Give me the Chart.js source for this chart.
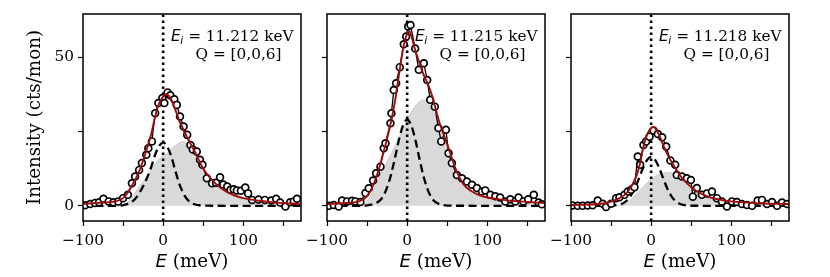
<!DOCTYPE html>
<html><head><meta charset="utf-8">
<script src="https://cdn.jsdelivr.net/npm/chart.js@4.4.1/dist/chart.umd.min.js"></script>
<style>
html,body{margin:0;padding:0;background:#fff;}
#wrap{position:relative;width:830px;height:277px;background:#fff;}
#wrap canvas{position:absolute;left:0;top:0;}
</style></head><body>
<div id="wrap">
<canvas id="c1" width="830" height="277"></canvas>
<canvas id="c2" width="830" height="277"></canvas>
<canvas id="c3" width="830" height="277"></canvas>
</div>
<script>
// ---------- axis ticks / labels ----------
const X_TICKS = [-100, -50, 0, 50, 100, 150];
const X_LABELS = ['\u2212100', '', '0', '', '100', ''];
const Y_TICKS = [0, 25, 50];
const Y_LABELS = ['0', '', '50'];
const X_MIN = -100, X_MAX = 172, Y_MIN = -5.1, Y_MAX = 64.6;
const EI_LABELS = ['11.212', '11.215', '11.218'];
const Q_LABEL = 'Q = [0,0,6]';
const Y_TITLE = 'Intensity (cts/mon)';

// ---------- measured points ----------
const e1 = [-97.5,-91,-85,-80,-74.5,-68,-62,-56,-50,-44,-39,-35,-30,-26.5,-21,-18.5,-14,-10,-6,-1,1.5,5.5,9,14,17,21,25.5,30,34,37,42,46,49,54.5,61,66,71,75,80,84,88,92,97,102.5,106,111,119,127,135,141,146,152.5,158.5,163,167];
const i1 = [0.2,0.6,1.0,1.2,2.4,1.5,1.2,1.5,2.6,3.7,7.6,9.9,12.1,14.4,17.2,19.4,21.7,31.2,34.6,36.3,34.6,38.2,37.2,35.9,34,30.1,26.7,23.9,20.5,19,18.3,15.5,13.8,9.3,7.6,7.8,9.6,7.2,6.5,5.4,5.6,5.2,5.1,6.2,4.2,2.0,2.1,2.0,1.8,2.4,1.1,-0.2,1.2,1.5,2.4];

const e2 = [-97.9,-91.6,-85.4,-81.25,-75,-68.75,-64.6,-58.3,-52,-47.9,-42.5,-38.75,-33.3,-29.2,-27,-20.8,-19.6,-16.7,-13.75,-9.2,-4.2,-1.25,1.25,4.2,10,14.5,20.8,25,28.75,34.5,39,42.5,48.4,51.7,55.8,62,68.4,74.6,80.9,87,93.4,97.5,103.75,110,116,122.5,128.75,135,139,145,151,158,164,168];
const i2 = [0,0.3,-0.2,1.8,1.5,1.7,1.5,1.3,4.3,5.9,8.5,11,13.2,19.4,21.1,27.8,31.2,39,41.3,46.7,54.4,57,60.4,60.9,53,45.8,48,42.4,35.7,33.4,26.2,21.7,25.6,17.7,14.4,10.4,9.3,8.2,7.1,6,4.8,5.2,3.7,3.2,2.8,1.5,2.2,1.5,2.8,1.5,2.2,3.7,1.1,0.5];

const e3 = [-97.9,-91.6,-85.4,-79,-73,-66.7,-60.4,-56.25,-50,-43.75,-39.6,-33.3,-29.2,-25,-20.8,-16.7,-13.75,-9.6,-6.25,-2,3,8.3,13.75,18.75,24,30,32,38.3,44.6,49.6,52,57,63.3,69.6,75.9,82,88.3,94.6,100.8,107,113.3,119.6,126,132.9,138.3,144.6,150.8,157.1,163.3,169.6];
const i3 = [0.1,0,0,0.1,0.2,1.8,0.7,-0.4,0.7,2.6,2.9,3.7,4.8,5.4,6.3,16.6,13.8,20.5,21.7,23.3,25.4,24.2,23.1,20,15.3,13.8,10.4,9.9,9.3,8.7,3.1,6,3.7,4.2,4.8,2.6,1.5,-0.2,1.5,1.3,0.6,0.3,0,1.8,2.0,0.6,1.3,0,1.1,0.6];

// ---------- fit curves ----------
const CURVE_E = [-100,-80,-60,-50,-40,-30,-20,-15,-10,-5,0,3,6,10,15,20,25,30,40,50,60,70,80,90,100,120,140,172];
const fit1 = [0.7,1.0,1.5,2.6,6.3,11.5,19.5,24,30,34.5,36.8,37.5,37.3,35.8,32.5,28.8,25.8,23,18,12.5,9,6.4,4.6,3.4,2.6,1.7,1.1,0.7];
const fit2 = [0.6,0.9,1.5,3.3,8.5,17.5,28.5,35.5,44.5,53,58,58.7,56.5,52.5,48.5,44.5,41.5,38,28.3,20.8,12.8,7.4,5.0,3.6,2.8,2.0,1.5,0.9];
const fit3 = [0.3,0.4,0.8,1.4,2.5,4.5,9,13,19.5,24,26.2,26.5,25.8,23.8,20.5,17.5,15,12.8,8.8,6.3,4.4,3.2,2.4,1.9,1.5,1.1,0.8,0.6];

const inel1 = [0,0,0,0.1,2.5,6.5,10,12.3,14.3,15.7,16.8,17.4,18,19.2,20.3,21.2,21.7,21,17.5,12.5,8.8,6.2,4.4,3.2,2.4,1.4,0.9,0.5];
const inel2 = [0,0,0.1,1.5,6.5,12.5,17.5,20.3,23,26,29,30.5,32,33.5,35,35.7,35,33,27.5,20,12.3,7.1,4.6,3.3,2.5,1.7,1.2,0.7];
const inel3 = [0,0,0,0,0.1,1,3.5,4.9,6.3,7.7,9,9.6,10.1,10.6,11,11.2,11.2,10.5,7.8,5.5,3.9,2.8,2.1,1.6,1.3,0.9,0.6,0.4];

const EL_E = [-100,-55,-45,-40,-35,-30,-25,-20,-15,-10,-5,0,5,10,15,20,25,30,35,40,45,55,172];
const el1 = [0,0.05,0.6,1.2,2.3,4.2,6.6,9.5,13,17.2,20.2,21.3,20,16.8,12,7.6,4.3,2.2,1.0,0.45,0.2,0.05,0];
const el2 = [0,0.05,0.4,0.8,1.6,3.2,6.2,10.6,16.4,22.5,27.2,29,27.2,22.5,16.3,10.4,5.9,2.9,1.3,0.6,0.25,0.05,0];
const el3 = [0,0.03,0.2,0.4,0.9,1.9,3.6,6,9.4,12.8,15.5,16.5,15.5,12.8,9.3,5.9,3.4,1.7,0.8,0.35,0.15,0.03,0];

// ---------- layout (pixels) ----------
const CANVAS_W = 830, CANVAS_H = 277;
const PLOT_LEFT = [83, 327, 571];
const PLOT_RIGHT = [301, 545, 789];
const PLOT_TOP = 14, PLOT_BOTTOM = 221;

const pts = (xs, ys) => xs.map((x, k) => ({x: x, y: ys[k]}));

const SERIF = '"DejaVu Serif", serif';
const SANS = '"DejaVu Sans", sans-serif';

const decorPlugin = {
  id: 'decor',
  afterDraw(chart, args, o) {
    const ctx = chart.ctx, a = chart.chartArea;
    ctx.save();
    // frame
    ctx.strokeStyle = '#000';
    ctx.lineWidth = 1.5;
    ctx.strokeRect(a.left, a.top, a.right - a.left, a.bottom - a.top);
    // annotation
    ctx.fillStyle = '#000';
    ctx.textBaseline = 'alphabetic';
    ctx.textAlign = 'left';
    const x0 = a.left + 88;
    ctx.font = 'italic 15.3px ' + SANS;
    ctx.fillText('E', x0, 41);
    const wE = ctx.measureText('E').width;
    ctx.font = 'italic 10.7px ' + SANS;
    ctx.fillText('i', x0 + wE - 0.5, 44);
    const wi = ctx.measureText('i').width;
    ctx.font = '15.3px ' + SERIF;
    ctx.fillText('= ' + o.ei + ' keV', x0 + wE + wi + 4.5, 41);
    ctx.fillText(Q_LABEL, a.left + 112.5, 59);
    // x title: italic E + (meV)
    ctx.font = 'italic 18.3px ' + SANS;
    const t1 = 'E';
    const w1 = ctx.measureText(t1).width;
    ctx.font = '18.3px ' + SERIF;
    const t2 = ' (meV)';
    const w2 = ctx.measureText(t2).width;
    const cx = (a.left + a.right) / 2;
    const xs = cx - (w1 + w2) / 2;
    ctx.font = 'italic 18.3px ' + SANS;
    ctx.fillText(t1, xs, 266.5);
    ctx.font = '18.3px ' + SERIF;
    ctx.fillText(t2, xs + w1, 266.5);
    ctx.restore();
  }
};

function makePanel(id, k, E, I, fit, inel, el) {
  const first = k === 0;
  const yW = first ? 73 : 20;
  const padL = PLOT_LEFT[k] - yW;
  return new Chart(document.getElementById(id), {
    type: 'line',
    data: {
      datasets: [
        { // fit
          data: pts(CURVE_E, fit), borderColor: '#a00c0c', borderWidth: 1.9,
          pointRadius: 0, cubicInterpolationMode: 'monotone', fill: false
        },
        { // data points
          data: pts(E, I), borderColor: '#000', borderWidth: 1.3,
          pointRadius: 3.4, pointBorderWidth: 1.7, pointBackgroundColor: '#fff',
          pointBorderColor: '#000', tension: 0, fill: false
        },
        { // E = 0 reference
          data: [{x: 0, y: Y_MIN}, {x: 0, y: Y_MAX}], borderColor: '#000',
          borderWidth: 2.6, borderDash: [2.6, 3.4], pointRadius: 0, fill: false
        },
        { // elastic
          data: pts(EL_E, el), borderColor: '#000', borderWidth: 2.3,
          borderDash: [8, 4.5], pointRadius: 0, cubicInterpolationMode: 'monotone', fill: false
        },
        { // inelastic
          data: pts(CURVE_E, inel), borderColor: '#cccccc', borderWidth: 1,
          backgroundColor: '#d9d9d9', pointRadius: 0, cubicInterpolationMode: 'monotone',
          fill: 'origin'
        }
      ]
    },
    options: {
      responsive: false, animation: false, devicePixelRatio: 1,
      layout: { padding: { left: padL, right: CANVAS_W - PLOT_RIGHT[k], top: PLOT_TOP, bottom: 0 } },
      events: [],
      plugins: { legend: { display: false }, tooltip: { enabled: false }, decor: { ei: EI_LABELS[k] } },
      scales: {
        x: {
          type: 'linear', min: X_MIN, max: X_MAX,
          afterBuildTicks: s => { s.ticks = X_TICKS.map(v => ({value: v})); },
          afterFit: s => { s.height = CANVAS_H - PLOT_BOTTOM; },
          grid: { drawOnChartArea: false, drawTicks: true, tickLength: 5, tickColor: '#000', tickWidth: 1.2 },
          border: { display: false },
          ticks: {
            color: '#000', font: { family: SERIF, size: 15.3 }, padding: 6, maxRotation: 0, autoSkip: false,
            callback: v => { const j = X_TICKS.indexOf(v); return j >= 0 ? X_LABELS[j] : ''; }
          }
        },
        y: {
          type: 'linear', min: Y_MIN, max: Y_MAX,
          afterBuildTicks: s => { s.ticks = Y_TICKS.map(v => ({value: v})); },
          afterFit: s => { s.width = yW; },
          grid: { drawOnChartArea: false, drawTicks: true, tickLength: 5, tickColor: '#000', tickWidth: 1.2 },
          border: { display: false },
          title: { display: first, text: Y_TITLE, color: '#000', font: { family: SERIF, size: 18.3 }, padding: { top: 14, bottom: 0 } },
          ticks: {
            color: '#000', font: { family: SERIF, size: 15.3 }, padding: 4, autoSkip: false,
            callback: v => { if (!first) return ''; const j = Y_TICKS.indexOf(v); return j >= 0 ? Y_LABELS[j] : ''; }
          }
        }
      }
    },
    plugins: [decorPlugin]
  });
}

makePanel('c1', 0, e1, i1, fit1, inel1, el1);
makePanel('c2', 1, e2, i2, fit2, inel2, el2);
makePanel('c3', 2, e3, i3, fit3, inel3, el3);
</script>
</body></html>
